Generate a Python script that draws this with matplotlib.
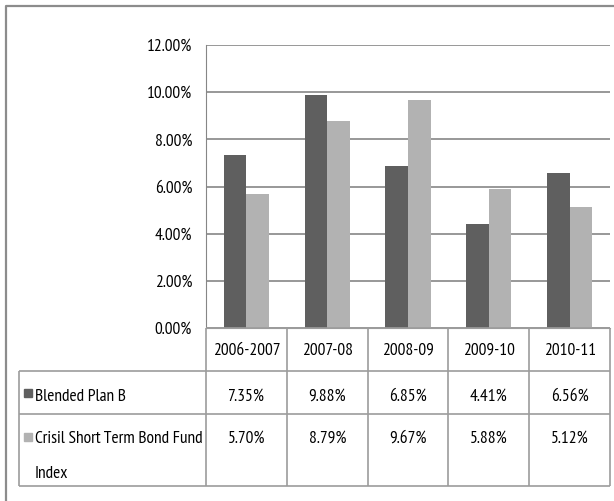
import matplotlib
matplotlib.use("Agg")
import matplotlib.pyplot as plt
from matplotlib.patches import Rectangle
from matplotlib.ticker import FuncFormatter
import numpy as np

plt.rcParams['font.family'] = ['PT Sans Narrow', 'DejaVu Sans']

periods = ['2006-2007', '2007-08', '2008-09', '2009-10', '2010-11']
blended = [7.35, 9.88, 6.85, 4.41, 6.56]
crisil = [5.70, 8.79, 9.67, 5.88, 5.12]
series_names = ['Blended Plan B', 'Crisil Short Term Bond Fund\nIndex']
colors = ['#5f5f5f', '#b2b2b2']

W, H = 614, 501
fig = plt.figure(figsize=(W / 100, H / 100), dpi=100)

# pixel layout of the plot area
px_left, px_right, px_top, px_zero = 206, 610, 45, 328
ax = fig.add_axes([px_left / W, 1 - px_zero / H,
                   (px_right - px_left) / W, (px_zero - px_top) / H])

x = np.arange(len(periods))
bw = 0.28
ax.bar(x - bw / 2, blended, bw, color=colors[0], zorder=3)
ax.bar(x + bw / 2, crisil, bw, color=colors[1], zorder=3)
ax.set_xlim(-0.5, len(periods) - 0.5)
ax.set_ylim(0, 12)
ax.set_yticks(np.arange(0, 12.01, 2))
ax.yaxis.set_major_formatter(FuncFormatter(lambda v, p: '%.2f%%' % v))
ax.yaxis.grid(True, color='#868686', lw=1.2)
ax.set_axisbelow(True)
ax.set_xticks([])
for s in ['top', 'right']:
    ax.spines[s].set_visible(False)
ax.spines['left'].set_color('#868686')
ax.spines['bottom'].set_color('#9c9c9c')

fs = 12.5
ax.tick_params(axis='y', length=0, pad=10, labelsize=fs)

# data table under the chart, drawn in pixel coordinates
tab = fig.add_axes([0, 0, 1, 1], zorder=5)
tab.set_xlim(0, W)
tab.set_ylim(H, 0)
tab.axis('off')

line_c = '#9c9c9c'
tbl_left = 19
rows = [328, 371, 414, 486]
col_w = (px_right - px_left) / len(periods)
edges = [px_left + i * col_w for i in range(len(periods) + 1)]

tab.hlines(rows[0], px_left, px_right, color=line_c, lw=1.2)
for r in rows[1:]:
    tab.hlines(r, tbl_left, px_right, color=line_c, lw=1.2)
for e in edges:
    tab.vlines(e, rows[0], rows[-1], color=line_c, lw=1.2)
tab.vlines(tbl_left, rows[1], rows[-1], color=line_c, lw=1.2)

# outer chart frame
tab.plot([6, 6, W], [H, 6, 6], color='#8c8c8c', lw=1.6)

for i, p in enumerate(periods):
    cx = edges[i] + col_w / 2
    tab.text(cx, 351, p, ha='center', va='center', fontsize=fs)
    tab.text(cx, 397, '%.2f%%' % blended[i], ha='center', va='center', fontsize=fs)
    tab.text(cx, 439, '%.2f%%' % crisil[i], ha='center', va='center', fontsize=fs)

tab.add_patch(Rectangle((24, 389), 8, 8, color=colors[0]))
tab.text(35, 397, series_names[0], ha='left', va='center', fontsize=fs)
tab.add_patch(Rectangle((24, 433), 8, 8, color=colors[1]))
first, second = series_names[1].split('\n')
tab.text(35, 439, first, ha='left', va='center', fontsize=fs)
tab.text(35, 474, second, ha='left', va='center', fontsize=fs)

fig.savefig('out.png', dpi=100)
